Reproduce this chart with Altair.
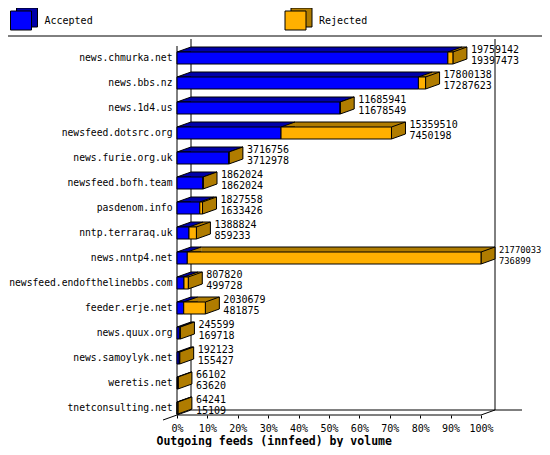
import altair as alt
import pandas as pd

hosts = ["news.chmurka.net", "news.bbs.nz", "news.1d4.us", "newsfeed.dotsrc.org",
         "news.furie.org.uk", "newsfeed.bofh.team", "pasdenom.info", "nntp.terraraq.uk",
         "news.nntp4.net", "newsfeed.endofthelinebbs.com", "feeder.erje.net",
         "news.quux.org", "news.samoylyk.net", "weretis.net", "tnetconsulting.net"]
offered = [19759142, 17800138, 11685941, 15359510, 3716756, 1862024, 1827558, 1388824,
           21770033, 807820, 2030679, 245599, 192123, 66102, 64241]
accepted = [19397473, 17287623, 11678549, 7450198, 3712978, 1862024, 1633426, 859233,
            736899, 499728, 481875, 169718, 155427, 63620, 15109]
series = ["Accepted", "Rejected"]
tick_values = [0, 10, 20, 30, 40, 50, 60, 70, 80, 90, 100]

MONO = "DejaVu Sans Mono"
FRONT = ["#0000ff", "#ffb000"]
DARK = ["#0000a8", "#b07c00"]
DX, DY = 14, 5

vmax = max(offered)
rows = []
for h, o, a in zip(hosts, offered, accepted):
    pa = a / vmax * 100
    po = o / vmax * 100
    rows.append(dict(host=h, seg="Accepted", start=0.0, end=pa))
    rows.append(dict(host=h, seg="Rejected", start=pa, end=po))
seg_df = pd.DataFrame(rows)
host_df = pd.DataFrame(dict(host=hosts,
                            total=[o / vmax * 100 for o in offered],
                            off=[str(o) for o in offered],
                            acc=[str(a) for a in accepted]))
leg_df = pd.DataFrame(dict(series=series))

xscale = alt.Scale(domain=[0, 100], nice=False, zero=True)
xaxis = alt.Axis(values=tick_values, labelExpr="datum.value + '%'", domain=False,
                 grid=False, ticks=True, tickSize=3, tickColor="black", offset=-5.5,
                 labelFont=MONO, labelFontSize=10, labelColor="black",
                 labelBaseline="middle", labelPadding=10, labelFlush=False,
                 labelOverlap=False,
                 title="Outgoing feeds (innfeed) by volume", titleFont=MONO,
                 titleFontSize=11.5, titleFontWeight="bold", titleColor="black",
                 titleX=-21, titleY=26, titleAlign="left", titleBaseline="middle")
yenc = alt.Y("host:N", sort=hosts, scale=alt.Scale(paddingInner=0, paddingOuter=0),
             axis=alt.Axis(domain=False, ticks=False, grid=False, labelFont=MONO,
                           labelFontSize=9.7, labelColor="black", labelPadding=5,
                           title=None))


def X(field):
    return alt.X(field, type="quantitative", scale=xscale, axis=xaxis)


dark_scale = alt.Scale(domain=series, range=DARK)
front_scale = alt.Scale(domain=series, range=FRONT)

base = alt.Chart(host_df)
one = alt.Chart(leg_df.head(1))


def rule(x, x2, y, y2):
    return one.mark_rule(color="black", strokeWidth=1).encode(
        x=alt.value(x), x2=alt.value(x2), y=alt.value(y), y2=alt.value(y2))


deco = [
    rule(DX, DX, -6.5, 364.5),
    rule(304 + DX, 304 + DX, -6.5, 364.5),
    rule(0, 0, 0.5, 369.5),
    rule(0, 304, 369.5, 369.5),
    rule(DX, 345, 364.5, 364.5),
    rule(-14, DX, 374.5, 364.5),
    rule(304, 304 + DX, 369.5, 364.5),
    rule(-177, 373, -9.5, -9.5),
]

back = alt.Chart(seg_df).mark_bar(size=12, xOffset=DX, x2Offset=DX, yOffset=-DY).encode(
    x=X("start"), x2="end", y=yenc,
    fill=alt.Fill("seg:N", scale=dark_scale, legend=None))

TRI = "M 1 0.357 L -1 0.357 L 1 -0.357"
tri = alt.Chart(seg_df).mark_point(shape=TRI, size=196, filled=True, opacity=1,
                                   stroke="black", strokeWidth=1,
                                   xOffset=7, yOffset=-8.5).encode(
    x=X("start"), y=yenc,
    fill=alt.Fill("seg:N", scale=dark_scale, legend=None))

top_edge = alt.Chart(seg_df).mark_rule(color="black", strokeWidth=1, xOffset=DX,
                                       x2Offset=DX, yOffset=-11).encode(
    x=X("start"), x2="end", y=yenc)

SIDE = "M -0.8235 -0.4118 L 0.8235 -1 L 0.8235 0.4118 L -0.8235 1 Z"
side = base.mark_point(shape=SIDE, size=289, filled=True, opacity=1, fill=DARK[1],
                       stroke="black", strokeWidth=1, xOffset=7, yOffset=-2.5).encode(
    x=X("total"), y=yenc)

front = alt.Chart(seg_df).mark_bar(size=12, stroke="black", strokeWidth=1).encode(
    x=X("start"), x2="end", y=yenc,
    color=alt.Color("seg:N", scale=front_scale, legend=None))

fsize = alt.condition(alt.datum.total > 99, alt.value(8.8), alt.value(10))
lab1 = base.mark_text(align="left", baseline="middle", dx=18, dy=-8, font=MONO,
                      color="black").encode(x=X("total"), y=yenc, text="off:N", size=fsize)
lab2 = base.mark_text(align="left", baseline="middle", dx=18, dy=3, font=MONO,
                      color="black").encode(x=X("total"), y=yenc, text="acc:N", size=fsize)


def legend_item(name, idx, x0):
    d = alt.Chart(leg_df).transform_filter(alt.datum.series == name)
    b = d.mark_rect(color=DARK[idx], stroke="black", strokeWidth=1).encode(
        x=alt.value(x0 + 6), x2=alt.value(x0 + 27), y=alt.value(-37.5), y2=alt.value(-18.5))
    f = d.mark_rect(color=FRONT[idx], stroke="black", strokeWidth=1).encode(
        x=alt.value(x0), x2=alt.value(x0 + 21), y=alt.value(-34.5), y2=alt.value(-15.5))
    t = d.mark_text(align="left", baseline="middle", font=MONO, fontSize=10,
                    color="black").encode(x=alt.value(x0 + 34), y=alt.value(-24.5),
                                          text="series:N")
    return [b, f, t]


legend_layers = legend_item("Accepted", 0, -166.5) + legend_item("Rejected", 1, 108)

chart = alt.layer(*deco, back, tri, top_edge, side, front, lab1, lab2,
                  *legend_layers).properties(
    width=304, height=375,
    padding={"left": 169, "top": 37.5, "right": 61, "bottom": 26.5},
    autosize=alt.AutoSizeParams(type="none"),
    background="white",
).configure_view(stroke=None)

chart.save("out.html", embed_options={"renderer": "svg", "actions": False})
